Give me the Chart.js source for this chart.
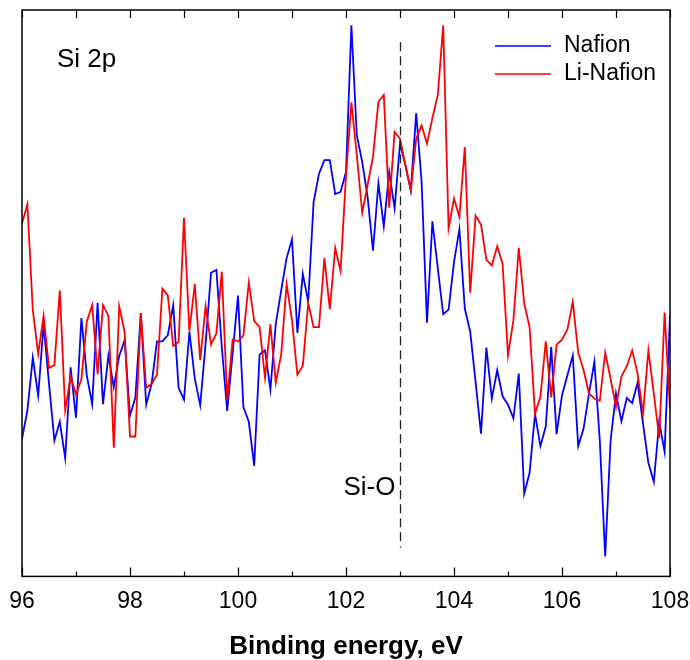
<!DOCTYPE html>
<html>
<head>
<meta charset="utf-8">
<script src="https://cdn.jsdelivr.net/npm/chart.js@4/dist/chart.umd.min.js"></script>
<style>
  html, body { margin: 0; padding: 0; background: #fff; }
  #wrap { width: 690px; height: 660px; }
</style>
</head>
<body>
<div id="wrap"><canvas id="myChart" width="690" height="660"></canvas></div>
<script>
// binding energy grid (eV)
var energy = [
  96.0, 96.1, 96.2, 96.3, 96.4, 96.5, 96.6, 96.7, 96.8, 96.9,
  97.0, 97.1, 97.2, 97.3, 97.4, 97.5, 97.6, 97.7, 97.8, 97.9,
  98.0, 98.1, 98.2, 98.3, 98.4, 98.5, 98.6, 98.7, 98.8, 98.9,
  99.0, 99.1, 99.2, 99.3, 99.4, 99.5, 99.6, 99.7, 99.8, 99.9,
  100.0, 100.1, 100.2, 100.3, 100.4, 100.5, 100.6, 100.7, 100.8, 100.9,
  101.0, 101.1, 101.2, 101.3, 101.4, 101.5, 101.6, 101.7, 101.8, 101.9,
  102.0, 102.1, 102.2, 102.3, 102.4, 102.5, 102.6, 102.7, 102.8, 102.9,
  103.0, 103.1, 103.2, 103.3, 103.4, 103.5, 103.6, 103.7, 103.8, 103.9,
  104.0, 104.1, 104.2, 104.3, 104.4, 104.5, 104.6, 104.7, 104.8, 104.9,
  105.0, 105.1, 105.2, 105.3, 105.4, 105.5, 105.6, 105.7, 105.8, 105.9,
  106.0, 106.1, 106.2, 106.3, 106.4, 106.5, 106.6, 106.7, 106.8, 106.9,
  107.0, 107.1, 107.2, 107.3, 107.4, 107.5, 107.6, 107.7, 107.8, 107.9,
  108.0
];

// intensity, arbitrary units
var nafion = [
  24.3, 29.3, 38.6, 31.9, 44.6, 34.0, 24.0, 27.3, 20.9, 36.9,
  28.0, 45.6, 35.5, 30.4, 48.3, 30.4, 39.0, 33.4, 38.9, 41.7,
  28.4, 31.6, 46.5, 30.3, 34.0, 41.5, 41.5, 42.6, 47.9, 33.3,
  31.2, 43.2, 34.9, 30.2, 41.1, 53.6, 54.1, 40.5, 29.2, 39.3,
  49.6, 29.9, 27.3, 19.5, 39.2, 39.9, 33.0, 44.6, 50.5, 56.2,
  59.5, 43.0, 53.4, 48.5, 66.1, 71.1, 73.5, 73.5, 67.5, 67.9,
  71.4, 97.3, 77.9, 73.2, 67.0, 57.5, 69.4, 61.8, 71.4, 65.0,
  76.4, 72.6, 68.2, 81.8, 69.7, 44.8, 62.7, 54.4, 46.3, 47.1,
  55.5, 61.3, 47.3, 43.2, 34.3, 25.2, 40.4, 31.4, 36.4, 31.8,
  30.3, 27.9, 35.8, 14.6, 18.3, 28.7, 23.0, 26.5, 40.5, 25.1,
  32.0, 35.5, 39.0, 23.0, 26.1, 32.3, 37.9, 24.0, 3.5, 24.0,
  32.3, 27.4, 31.5, 30.6, 34.2, 27.0, 20.0, 16.7, 27.3, 22.0,
  46.1
];

var liNafion = [
  62.3, 65.7, 47.0, 39.3, 46.0, 36.8, 37.3, 50.5, 29.3, 35.3,
  32.1, 34.8, 45.0, 47.9, 35.7, 47.9, 46.0, 22.7, 47.7, 43.2,
  24.7, 24.7, 46.4, 33.3, 34.0, 35.6, 50.8, 49.6, 40.7, 41.4,
  63.3, 43.3, 51.6, 38.2, 47.7, 41.0, 42.9, 53.8, 31.1, 41.8,
  41.5, 42.5, 51.9, 45.1, 44.0, 35.1, 44.5, 34.2, 39.2, 51.6,
  45.2, 35.6, 37.2, 48.2, 44.0, 44.0, 56.2, 47.2, 58.0, 53.9,
  70.8, 83.7, 74.4, 64.2, 69.1, 74.1, 83.8, 85.0, 65.1, 78.5,
  77.3, 72.6, 68.1, 77.3, 79.6, 76.4, 80.9, 85.0, 97.3, 61.5,
  66.7, 63.5, 75.8, 50.1, 63.7, 62.1, 55.9, 54.9, 58.3, 55.2,
  39.0, 45.2, 58.0, 48.2, 44.0, 28.7, 31.7, 41.5, 31.6, 40.9,
  41.8, 43.6, 48.5, 39.5, 36.4, 32.3, 31.4, 31.0, 39.5, 34.9,
  29.9, 35.3, 37.1, 39.9, 35.8, 28.7, 39.9, 32.3, 24.4, 46.6,
  29.6
];

var seriesNames = ["Nafion", "Li-Nafion"];
var tickValues = [96, 97, 98, 99, 100, 101, 102, 103, 104, 105, 106, 107, 108];
var siOEnergy = 103;

function points(ys) {
  var out = [];
  for (var i = 0; i < energy.length; i++) {
    out.push({ x: energy[i], y: ys[i] });
  }
  return out;
}

var FONT = "'Liberation Sans', Arial, sans-serif";

var decorPlugin = {
  id: 'decor',
  afterDatasetsDraw: function (chart) {
    var c = chart.ctx;
    var a = chart.chartArea;
    var xs = chart.scales.x;
    var ys = chart.scales.y;
    c.save();

    // frame
    c.strokeStyle = '#000';
    c.lineWidth = 1.5;
    c.strokeRect(a.left, a.top, a.right - a.left, a.bottom - a.top);

    // inward ticks, top and bottom
    c.lineWidth = 1.2;
    tickValues.forEach(function (v) {
      var px = Math.round(xs.getPixelForValue(v)) + 0.5;
      var len = (v % 2 === 0) ? 9 : 5;
      c.beginPath();
      c.moveTo(px, a.bottom);
      c.lineTo(px, a.bottom - len);
      c.moveTo(px, a.top);
      c.lineTo(px, a.top + 8);
      c.stroke();
    });

    // Si-O reference line
    var dx = Math.round(xs.getPixelForValue(siOEnergy)) + 0.5;
    c.setLineDash([9, 5]);
    c.lineWidth = 1.3;
    c.strokeStyle = '#222';
    c.beginPath();
    c.moveTo(dx, ys.getPixelForValue(94.3));
    c.lineTo(dx, ys.getPixelForValue(5.1));
    c.stroke();
    c.setLineDash([]);

    // labels
    c.fillStyle = '#000';
    c.textBaseline = 'middle';
    c.textAlign = 'left';
    c.font = '26px ' + FONT;
    c.fillText('Si 2p', a.left + 35, a.top + 50);
    c.textAlign = 'right';
    c.font = '26px ' + FONT;
    c.fillText('Si-O', dx - 5, ys.getPixelForValue(15.6));

    // legend
    c.textAlign = 'left';
    c.font = '23px ' + FONT;
    chart.data.datasets.forEach(function (ds, i) {
      var ly = a.top + 36 + i * 28;
      c.strokeStyle = ds.borderColor;
      c.lineWidth = 1.5;
      c.beginPath();
      c.moveTo(a.left + 473, ly);
      c.lineTo(a.left + 529, ly);
      c.stroke();
      c.fillStyle = '#000';
      c.fillText(ds.label, a.left + 542, ly);
    });

    c.restore();
  }
};

var ctx = document.getElementById("myChart");

var chart = new Chart(ctx, {
  type: 'line',
  data: {
    datasets: [{
      label: seriesNames[0],
      data: points(nafion),
      borderColor: '#0000ff',
      borderWidth: 1.8,
      pointRadius: 0,
      tension: 0,
      fill: false,
      order: 1
    }, {
      label: seriesNames[1],
      data: points(liNafion),
      borderColor: '#ff0000',
      borderWidth: 1.8,
      pointRadius: 0,
      tension: 0,
      fill: false,
      order: 0
    }]
  },
  options: {
    responsive: false,
    animation: false,
    layout: {
      padding: { left: 22, right: 20, top: 10, bottom: 0 }
    },
    plugins: {
      legend: { display: false },
      tooltip: { enabled: false }
    },
    scales: {
      x: {
        type: 'linear',
        min: 96,
        max: 108,
        grid: { display: false, tickLength: 0 },
        border: { display: false },
        afterFit: function (scale) {
          // tick labels may hang past the frame, as in the original
          scale.paddingLeft = 0;
          scale.paddingRight = 0;
        },
        ticks: {
          stepSize: 2,
          color: '#000',
          padding: 11,
          font: { size: 23, family: FONT }
        },
        title: {
          display: true,
          text: 'Binding energy, eV',
          color: '#000',
          font: { size: 26, weight: 'bold', family: FONT, lineHeight: 1 },
          padding: { top: 8, bottom: 0 }
        }
      },
      y: {
        display: false,
        min: 0,
        max: 100
      }
    }
  },
  plugins: [decorPlugin]
});
</script>
</body>
</html>
